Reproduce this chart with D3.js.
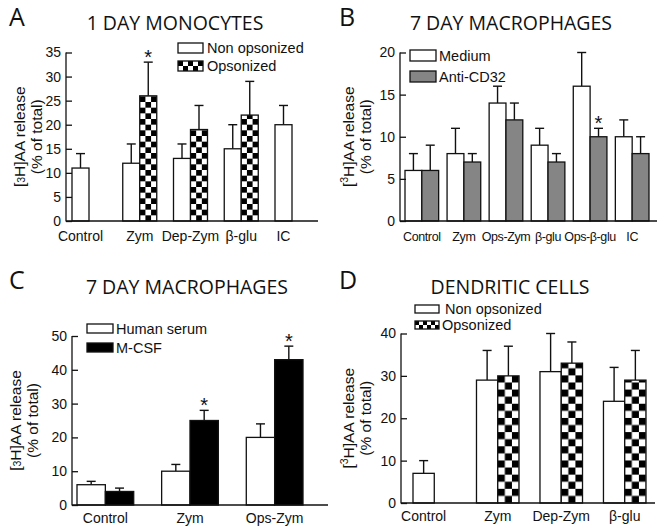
<!DOCTYPE html>
<html>
<head>
<meta charset="utf-8">
<script src="https://cdn.jsdelivr.net/npm/d3@7"></script>
<style>
  body { margin: 0; background: #fff; }
  svg { display: block; }
  text { font-family: "Liberation Sans", Arial, sans-serif; fill: #111; }
  .title, .letter { font-family: "Open Sans", "Noto Sans", sans-serif; }
</style>
</head>
<body>
<div id="chart"></div>
<script>
// panel A - 1 day monocytes
const catsA = ["Control", "Zym", "Dep-Zym", "β-glu", "IC"];
const nonOpsA = [11, 12, 13, 15, 20];
const nonOpsErrA = [3, 4, 3, 5, 4];
const opsA = [null, 26, 19, 22, null];
const opsErrA = [null, 7, 5, 7, null];
const starA = [false, true, false, false, false];
const ticksA = [0, 5, 10, 15, 20, 25, 30, 35];

// panel B - 7 day macrophages, anti-CD32
const catsB = ["Control", "Zym", "Ops-Zym", "β-glu", "Ops-β-glu", "IC"];
const mediumB = [6, 8, 14, 9, 16, 10];
const mediumErrB = [2, 3, 2, 2, 4, 2];
const cd32B = [6, 7, 12, 7, 10, 8];
const cd32ErrB = [3, 1, 2, 1, 1, 2];
const starB = [false, false, false, false, true, false];
const ticksB = [0, 5, 10, 15, 20];

// panel C - 7 day macrophages, M-CSF
const catsC = ["Control", "Zym", "Ops-Zym"];
const serumC = [6, 10, 20];
const serumErrC = [1, 2, 4];
const mcsfC = [4, 25, 43];
const mcsfErrC = [1, 3, 4];
const starC = [false, true, true];
const ticksC = [0, 10, 20, 30, 40, 50];

// panel D - dendritic cells
const catsD = ["Control", "Zym", "Dep-Zym", "β-glu"];
const nonOpsD = [7, 29, 31, 24];
const nonOpsErrD = [3, 7, 9, 8];
const opsD = [null, 30, 33, 29];
const opsErrD = [null, 7, 5, 7];
const starD = [false, false, false, false];
const ticksD = [0, 10, 20, 30, 40];

const W = 664, H = 531;
const svg = d3.select("#chart").append("svg").attr("width", W).attr("height", H);
const defs = svg.append("defs");
let patId = 0;

function checker(x, y, size) {
  const id = "chk" + (patId++);
  const p = defs.append("pattern").attr("id", id)
    .attr("patternUnits", "userSpaceOnUse")
    .attr("x", x).attr("y", y)
    .attr("width", size * 2).attr("height", size * 2);
  p.append("rect").attr("width", size * 2).attr("height", size * 2).attr("fill", "#fff");
  p.append("rect").attr("width", size).attr("height", size).attr("fill", "#000");
  p.append("rect").attr("x", size).attr("y", size).attr("width", size).attr("height", size).attr("fill", "#000");
  return "url(#" + id + ")";
}

function fillFor(style, x, y, size) {
  if (style === "check") return checker(x, y, size);
  return style;
}

function drawPanel(p) {
  const g = svg.append("g");
  const y = d3.scaleLinear().domain([0, p.max]).range([p.y0, p.yTop]);
  const x0 = d3.scaleBand().domain(p.cats).range(p.bandRange).paddingInner(p.padIn);
  const x1 = d3.scaleBand().domain([0, 1]).range([0, x0.bandwidth()]);
  const bw = x1.bandwidth();

  // letter + title
  g.append("text").attr("class", "letter").attr("x", p.letterX).attr("y", p.letterY)
    .attr("font-size", 25).text(p.letter);
  g.append("text").attr("class", "title").attr("x", p.titleX).attr("y", p.titleY)
    .attr("text-anchor", "middle").attr("font-size", 19.5).text(p.title);

  // bars
  p.series.forEach((s, si) => {
    s.values.forEach((v, i) => {
      if (v == null) return;
      const bx = x0(p.cats[i]) + x1(si);
      const top = y(v);
      const e = y(v + s.err[i]);
      const cx = bx + bw / 2;
      g.append("line").attr("x1", cx).attr("x2", cx).attr("y1", top).attr("y2", e)
        .attr("stroke", "#111").attr("stroke-width", 1.4);
      g.append("line").attr("x1", cx - 4.5).attr("x2", cx + 4.5).attr("y1", e).attr("y2", e)
        .attr("stroke", "#111").attr("stroke-width", 1.4);
      g.append("rect").attr("x", bx).attr("y", top).attr("width", bw).attr("height", p.y0 - top)
        .attr("fill", fillFor(s.fill, bx, p.y0, bw / 3))
        .attr("stroke", "#111").attr("stroke-width", 1.3);
      if (s.star && s.star[i]) {
        g.append("text").attr("x", cx).attr("y", e + 2).attr("text-anchor", "middle")
          .attr("font-size", 20).text("*");
      }
    });
  });

  // axes
  const major = d3.axisLeft(y).tickValues(p.ticks).tickSize(-6).tickPadding(5).tickSizeOuter(0);
  const minor = d3.axisLeft(y).tickValues(d3.range(0, p.max + 0.001, p.minor)).tickSize(-3.5)
    .tickFormat("").tickSizeOuter(0);
  const ga = g.append("g").attr("transform", `translate(${p.axisX},0)`);
  ga.call(minor);
  ga.call(major);
  ga.selectAll("path, line").attr("stroke", "#111").attr("stroke-width", 1.3);
  ga.selectAll("text").attr("font-size", 14).attr("fill", "#111")
    .attr("font-family", '"Liberation Sans", Arial, sans-serif');
  ga.selectAll(".domain").attr("d", `M0,${p.y0 + 0.5}V${p.yTop}`);

  g.append("line").attr("x1", p.axisX).attr("x2", p.xEnd).attr("y1", p.y0).attr("y2", p.y0)
    .attr("stroke", "#111").attr("stroke-width", 1.3);

  // category labels: single-bar groups are labelled under the bar
  p.cats.forEach((c, i) => {
    const present = p.series.map(s => s.values[i] != null);
    let cx = x0(c) + x0.bandwidth() / 2;
    if (present.filter(Boolean).length === 1) {
      const si = present.indexOf(true);
      cx = x0(c) + x1(si) + bw / 2;
    }
    g.append("text").attr("x", cx).attr("y", p.y0 + p.labDy).attr("text-anchor", "middle")
      .attr("font-size", p.catFont).attr("letter-spacing", p.catLs || 0).text(c);
  });

  // y label
  const cy = (p.y0 + p.yTop) / 2;
  const l1 = g.append("text").attr("transform", `translate(${p.labX1},${cy}) rotate(-90)`)
    .attr("text-anchor", "middle").attr("font-size", 15.5);
  l1.append("tspan").text("[");
  if (p.sup) {
    l1.append("tspan").attr("font-size", 10.5).attr("dy", -6.5).text("3");
    l1.append("tspan").attr("dy", 6.5).text("H]AA release");
  } else {
    l1.append("tspan").attr("font-size", 10.5).text("3");
    l1.append("tspan").text("H]AA release");
  }
  g.append("text").attr("transform", `translate(${p.labX2},${cy}) rotate(-90)`)
    .attr("text-anchor", "middle").attr("font-size", 15.5).text("(% of total)");

  // legend
  p.series.forEach((s, si) => {
    const ly = p.leg.y + si * p.leg.dy;
    g.append("rect").attr("x", p.leg.x).attr("y", ly).attr("width", p.leg.w).attr("height", p.leg.h)
      .attr("fill", fillFor(s.fill, p.leg.x, ly, p.leg.h / 2))
      .attr("stroke", "#111").attr("stroke-width", 1.3);
    g.append("text").attr("x", p.leg.tx + (p.leg.tdx ? p.leg.tdx[si] : 0)).attr("y", ly + p.leg.h / 2 + 5)
      .attr("font-size", 14.5).text(s.name);
  });
}

drawPanel({
  letter: "A", letterX: 9, letterY: 26, title: "1 DAY MONOCYTES", titleX: 175, titleY: 30,
  cats: catsA, max: 35, ticks: ticksA, minor: 1,
  axisX: 66, y0: 221, yTop: 52.5, xEnd: 318, bandRange: [72, 309], padIn: 0.33,
  labX1: 25, labX2: 42, sup: false, labDy: 20, catFont: 14,
  series: [
    { name: "Non opsonized", values: nonOpsA, err: nonOpsErrA, fill: "#fff" },
    { name: "Opsonized", values: opsA, err: opsErrA, fill: "check", star: starA }
  ],
  leg: { x: 178, y: 43, w: 25, h: 10, dy: 18, tx: 207 }
});

drawPanel({
  letter: "B", letterX: 339, letterY: 26, title: "7 DAY MACROPHAGES", titleX: 511, titleY: 30,
  cats: catsB, max: 20, ticks: ticksB, minor: 1,
  axisX: 400, y0: 221, yTop: 52.5, xEnd: 657, bandRange: [405, 649], padIn: 0.2,
  labX1: 354, labX2: 371, sup: true, labDy: 20, catFont: 12.5, catLs: -0.4,
  series: [
    { name: "Medium", values: mediumB, err: mediumErrB, fill: "#fff" },
    { name: "Anti-CD32", values: cd32B, err: cd32ErrB, fill: "#858585", star: starB }
  ],
  leg: { x: 410, y: 50, w: 26, h: 11, dy: 21, tx: 439 }
});

drawPanel({
  letter: "C", letterX: 9, letterY: 289, title: "7 DAY MACROPHAGES", titleX: 187, titleY: 294,
  cats: catsC, max: 50, ticks: ticksC, minor: 2,
  axisX: 72, y0: 505, yTop: 336, xEnd: 328, bandRange: [77, 303], padIn: 0.33,
  labX1: 21, labX2: 38, sup: false, labDy: 18, catFont: 14,
  series: [
    { name: "Human serum", values: serumC, err: serumErrC, fill: "#fff" },
    { name: "M-CSF", values: mcsfC, err: mcsfErrC, fill: "#000", star: starC }
  ],
  leg: { x: 87, y: 324, w: 26, h: 9, dy: 19, tx: 116 }
});

drawPanel({
  letter: "D", letterX: 339, letterY: 289, title: "DENDRITIC CELLS", titleX: 510, titleY: 294,
  cats: catsD, max: 40, ticks: ticksD, minor: 2,
  axisX: 401, y0: 503, yTop: 333.5, xEnd: 655, bandRange: [413, 646], padIn: 0.33,
  labX1: 354, labX2: 371, sup: true, labDy: 18, catFont: 14,
  series: [
    { name: "Non opsonized", values: nonOpsD, err: nonOpsErrD, fill: "#fff" },
    { name: "Opsonized", values: opsD, err: opsErrD, fill: "check" }
  ],
  leg: { x: 415, y: 305, w: 24, h: 8, dy: 16, tx: 442, tdx: [3, 0] }
});
</script>
</body>
</html>
